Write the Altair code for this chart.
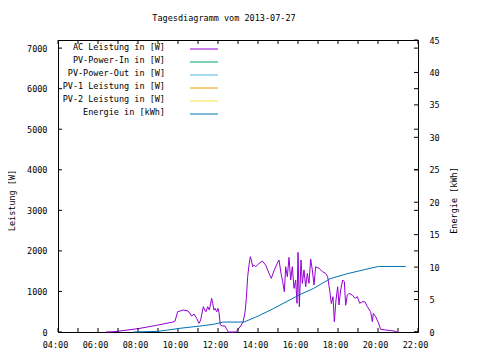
import altair as alt
import pandas as pd

# ---- data ----
power_time = ["06:24", "06:51", "07:30", "08:06", "08:56", "09:45", "09:51", "09:59", "10:16", "10:30",
              "10:41", "10:48", "10:56", "11:03", "11:08", "11:16", "11:20", "11:24", "11:29", "11:34",
              "11:41", "11:44", "11:48", "11:51", "11:56", "12:00", "12:03", "12:07", "12:13", "12:21",
              "12:26", "12:31", "12:53", "13:00", "13:08", "13:15", "13:21", "13:25", "13:29", "13:33",
              "13:37", "13:40", "13:44", "13:48", "13:53", "14:03", "14:13", "14:23", "14:33", "14:40",
              "14:48", "14:58", "15:03", "15:09", "15:14", "15:19", "15:23", "15:28", "15:33", "15:38",
              "15:43", "15:48", "15:53", "15:57", "16:00", "16:04", "16:09", "16:13", "16:18", "16:23",
              "16:28", "16:33", "16:38", "16:43", "16:48", "16:53", "17:03", "17:13", "17:23", "17:29",
              "17:35", "17:40", "17:45", "17:49", "17:54", "17:59", "18:03", "18:08", "18:14", "18:19",
              "18:23", "18:28", "18:33", "18:43", "18:51", "18:58", "19:05", "19:13", "19:21", "19:28",
              "19:38", "19:43", "19:46", "19:53", "20:01", "20:08", "20:23", "20:38", "20:48", "20:58"]
power_w = [0, 10, 50, 90, 165, 246, 270, 500, 542, 520,
           394, 444, 337, 214, 296, 624, 542, 500, 624, 542,
           830, 707, 542, 583, 500, 583, 477, 172, 148, 148,
           66, 0, 0, 66, 148, 246, 477, 830, 1363, 1650,
           1857, 1775, 1610, 1650, 1610, 1690, 1750, 1650, 1446, 1323,
           1510, 1700, 1775, 1446, 1240, 993, 1610, 1363, 1840, 1282,
           1610, 1075, 1282, 707, 1964, 624, 1775, 1200, 1530, 1115,
           1446, 1200, 1800, 1530, 1160, 1610, 1570, 1490, 1446, 1363,
           1035, 700, 870, 255, 790, 1115, 666, 1035, 1282, 1240,
           660, 910, 953, 910, 830, 870, 707, 745, 745, 624,
           500, 255, 460, 378, 230, 66, 50, 35, 25, 0]

energy_time = ["07:46", "09:00", "09:29", "10:06", "11:06", "11:46", "12:16", "13:18", "14:00",
               "14:46", "16:06", "16:46", "17:36", "18:26", "19:16", "20:01", "21:23"]
energy_kwh = [0.0, 0.1, 0.3, 0.57, 0.92, 1.18, 1.53, 1.53, 2.45,
              3.6, 5.77, 6.7, 8.2, 8.96, 9.57, 10.1, 10.1]

series_names = ["AC Leistung in [W]", "PV-Power-In in [W]", "PV-Power-Out in [W]",
                "PV-1 Leistung in [W]", "PV-2 Leistung in [W]", "Energie in [kWh]"]
series_colors = ["#9400D3", "#009E73", "#56B4E9", "#E69F00", "#F0E442", "#0072B2"]

x_tick_hours = list(range(4, 23))
x_label_hours = list(range(4, 23, 2))
y_ticks = [0, 1000, 2000, 3000, 4000, 5000, 6000, 7000]
y2_ticks = [0, 5, 10, 15, 20, 25, 30, 35, 40, 45]


def to_hours(t):
    h, m = t.split(":")
    return int(h) + int(m) / 60.0


power_df = pd.DataFrame({"h": [to_hours(t) for t in power_time], "w": power_w})
energy_df = pd.DataFrame({"h": [to_hours(t) for t in energy_time], "kwh": energy_kwh})
legend_df = pd.DataFrame({"name": series_names, "color": series_colors,
                          "row": list(range(len(series_names)))})
xt_df = pd.DataFrame({"h": x_tick_hours})
yt_df = pd.DataFrame({"w": y_ticks})
y2t_df = pd.DataFrame({"kwh": y2_ticks})

W, H = 360, 292
FONT = "DejaVu Sans Mono"
FS = 8.5

xscale = alt.Scale(domain=[4, 22], nice=False, zero=False)
xaxis = alt.Axis(values=x_label_hours, grid=False, ticks=False, domain=False,
                 labelExpr="(datum.value < 10 ? '0' : '') + datum.value + ':00'",
                 labelFlush=False, labelOverlap=False, labelPadding=8, labelOffset=-3,
                 title=None)
yscale = alt.Scale(domain=[0, 7200], nice=False)
yaxis = alt.Axis(values=y_ticks, format="d", grid=False, ticks=False, domain=False,
                 labelPadding=11, labelOverlap=False, title="Leistung [W]",
                 titleAngle=270, titleX=-47, titleY=160, titleBaseline="middle")
y2scale = alt.Scale(domain=[0, 45], nice=False)
y2axis = alt.Axis(orient="right", values=y2_ticks, grid=False, ticks=False,
                  domain=False, labelPadding=11, labelOverlap=False,
                  title="Energie [kWh]", titleAngle=270, titleX=35, titleY=160,
                  titleBaseline="middle")

power_line = alt.Chart(power_df).mark_line(color="#9400D3", strokeWidth=1).encode(
    x=alt.X("h:Q", scale=xscale, axis=xaxis),
    y=alt.Y("w:Q", scale=yscale, axis=yaxis),
)

# inward ticks on the border
bottom_ticks = alt.Chart(xt_df).mark_rule(color="black", strokeWidth=1).encode(
    x=alt.X("h:Q", scale=xscale, axis=xaxis), y=alt.value(H), y2=alt.value(H - 4))
top_ticks = alt.Chart(xt_df).mark_rule(color="black", strokeWidth=1).encode(
    x=alt.X("h:Q", scale=xscale, axis=xaxis), y=alt.value(0), y2=alt.value(4))
left_ticks = alt.Chart(yt_df).mark_rule(color="black", strokeWidth=1).encode(
    y=alt.Y("w:Q", scale=yscale, axis=yaxis), x=alt.value(0), x2=alt.value(4))
right_ticks = alt.Chart(yt_df).mark_rule(color="black", strokeWidth=1).encode(
    y=alt.Y("w:Q", scale=yscale, axis=yaxis), x=alt.value(W), x2=alt.value(W - 4))

left = alt.layer(power_line, bottom_ticks, top_ticks, left_ticks, right_ticks)

energy_line = alt.Chart(energy_df).mark_line(color="#0072B2", strokeWidth=1).encode(
    x=alt.X("h:Q", scale=xscale, axis=xaxis),
    y=alt.Y("kwh:Q", scale=y2scale, axis=y2axis),
)
y2_tick_rules = alt.Chart(y2t_df).mark_rule(color="black", strokeWidth=1).encode(
    y=alt.Y("kwh:Q", scale=y2scale, axis=y2axis), x=alt.value(W), x2=alt.value(W - 4))

right = alt.layer(energy_line, y2_tick_rules)

legend_y = alt.Scale(domain=[0, 5], range=[9, 74])
legend_text = alt.Chart(legend_df).mark_text(
    align="right", baseline="middle", dy=-2, font=FONT, fontSize=FS, color="black"
).encode(
    x=alt.value(107),
    y=alt.Y("row:Q", scale=legend_y, axis=None),
    text="name:N",
)
legend_lines = alt.Chart(legend_df).mark_rule(strokeWidth=1).encode(
    x=alt.value(132), x2=alt.value(160),
    y=alt.Y("row:Q", scale=legend_y, axis=None),
    color=alt.Color("color:N", scale=None),
)
legend = alt.layer(legend_text, legend_lines)

chart = alt.layer(left, right, legend).resolve_scale(y="independent").properties(
    width=W, height=H,
    title=alt.TitleParams("Tagesdiagramm vom 2013-07-27", font=FONT, fontSize=FS,
                          fontWeight="normal", anchor="middle", dx=-14, offset=7,
                          baseline="alphabetic", color="black"),
    autosize=alt.AutoSizeParams(type="none"),
    padding={"left": 50, "top": 32, "right": 54, "bottom": 20},
    background="white",
).configure_view(stroke="black", strokeWidth=1).configure_axis(
    labelFont=FONT, labelFontSize=FS, labelColor="black",
    titleFont=FONT, titleFontSize=FS, titleFontWeight="normal", titleColor="black",
)

chart.save("out.html", embed_options={"renderer": "svg", "actions": False})
